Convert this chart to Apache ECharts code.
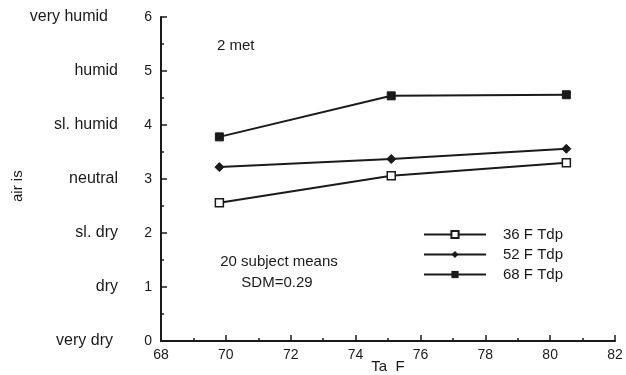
<!DOCTYPE html>
<html><head><meta charset="utf-8">
<script src="https://cdn.jsdelivr.net/npm/echarts@6/dist/echarts.min.js"></script>
<style>html,body{margin:0;padding:0;background:#fff}#c{width:626px;height:375px}</style>
</head><body><div id="c"></div>
<script>
var taF = [69.8, 75.1, 80.5];
var tdp36 = [2.56, 3.06, 3.30];
var tdp52 = [3.22, 3.37, 3.56];
var tdp68 = [3.78, 4.54, 4.56];
var seriesNames = ['36 F Tdp', '52 F Tdp', '68 F Tdp'];
var scaleLabels = ['very dry', 'dry', 'sl. dry', 'neutral', 'sl. humid', 'humid', 'very humid'];

function pairs(v){ return taF.map(function(x,i){ return [x, v[i]]; }); }
var ink = '#1a1a1a';
var font = 'Liberation Sans, Arial, sans-serif';
var chart = echarts.init(document.getElementById('c'));
chart.setOption({
  animation: false,
  backgroundColor: '#fff',
  textStyle: { fontFamily: font, color: ink },
  grid: { left: 161, right: 11, top: 17, bottom: 34, outerBoundsMode: 'none', containLabel: false },
  xAxis: {
    type: 'value', min: 68, max: 82, interval: 2,
    axisLine: { lineStyle: { color: ink, width: 2 } },
    axisTick: { inside: true, length: 6, lineStyle: { color: ink, width: 1.5 } },
    minorTick: { show: true, splitNumber: 2, length: 3, lineStyle: { color: ink, width: 1.5 } },
    axisLabel: { color: ink, fontSize: 14, margin: 7, fontFamily: font },
    splitLine: { show: false },
    name: 'Ta  F', nameLocation: 'middle', nameGap: 18, nameMoveOverlap: false,
    nameTextStyle: { color: ink, fontSize: 15, fontFamily: font }
  },
  yAxis: [{
    type: 'value', min: 0, max: 6, interval: 1,
    axisLine: { show: true, lineStyle: { color: ink, width: 2 } },
    axisTick: { show: true, inside: true, length: 6, lineStyle: { color: ink, width: 1.5 } },
    minorTick: { show: true, splitNumber: 2, length: 3, lineStyle: { color: ink, width: 1.5 } },
    axisLabel: { color: ink, fontSize: 14, margin: 9, fontFamily: font },
    splitLine: { show: false }
  }, {
    type: 'value', min: 0, max: 6, interval: 1, position: 'left', offset: 35,
    axisLine: { show: false }, axisTick: { show: false }, splitLine: { show: false },
    axisLabel: { color: ink, fontSize: 16, margin: 8, fontFamily: font,
      formatter: function(v){
        var i = Math.round(v);
        if (i === 6) return '{a|' + scaleLabels[i] + '}';
        if (i === 0) return '{b|' + scaleLabels[i] + '}';
        return scaleLabels[i] || '';
      },
      rich: { a: { fontSize: 16, padding: [0, 10, 0, 0] }, b: { fontSize: 16, padding: [0, 5, 0, 0] } } }
  }],
  legend: {
    orient: 'vertical', left: 418, top: 222, itemWidth: 62, itemHeight: 9, itemGap: 5,
    textStyle: { color: ink, fontSize: 15, fontFamily: font, padding: [0, 0, 0, 12] },
    data: seriesNames
  },
  series: [
    { name: seriesNames[0], type: 'line', data: pairs(tdp36), symbol: 'rect', symbolSize: 8,
      lineStyle: { color: ink, width: 2 }, itemStyle: { color: '#fff', borderColor: ink, borderWidth: 1.5 } },
    { name: seriesNames[1], type: 'line', data: pairs(tdp52), symbol: 'diamond', symbolSize: 9,
      lineStyle: { color: ink, width: 2 }, itemStyle: { color: ink, borderColor: ink } },
    { name: seriesNames[2], type: 'line', data: pairs(tdp68), symbol: 'rect', symbolSize: 8,
      lineStyle: { color: ink, width: 2 }, itemStyle: { color: ink, borderColor: ink } }
  ],
  graphic: [
    { type: 'text', left: 217, top: 38, style: { text: '2 met', font: '15px ' + font, fill: ink } },
    { type: 'text', x: 279, y: 262, style: { text: '20 subject means', font: '15px ' + font, fill: ink, textAlign: 'center', textVerticalAlign: 'middle' } },
    { type: 'text', x: 277, y: 283, style: { text: 'SDM=0.29', font: '15px ' + font, fill: ink, textAlign: 'center', textVerticalAlign: 'middle' } },
    { type: 'text', x: 10, y: 202, rotation: Math.PI / 2, style: { text: 'air is', font: '15px ' + font, fill: ink } }
  ]
});
</script></body></html>
